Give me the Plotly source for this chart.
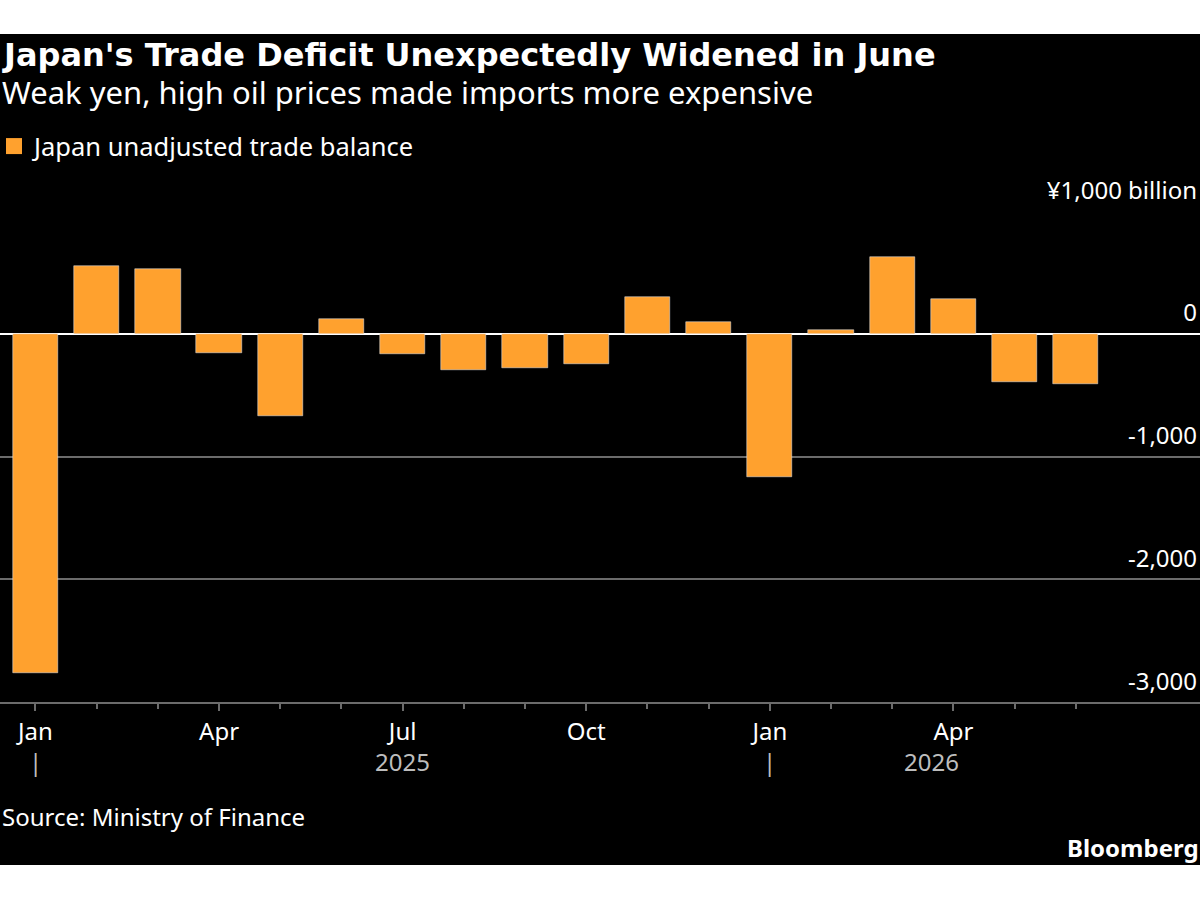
import plotly.graph_objects as go

# ---- data ----
months = ["Jan 2025", "Feb 2025", "Mar 2025", "Apr 2025", "May 2025", "Jun 2025",
          "Jul 2025", "Aug 2025", "Sep 2025", "Oct 2025", "Nov 2025", "Dec 2025",
          "Jan 2026", "Feb 2026", "Mar 2026", "Apr 2026", "May 2026", "Jun 2026"]
trade_balance = [-2764, 556, 524, -153, -666, 117, -161, -298, -283, -243, 302, 93,
                 -1169, 33, 626, 280, -396, -412]
month_tick_labels = ["Jan", "Apr", "Jul", "Oct", "Jan", "Apr"]
y_tick_values = [-3000, -2000, -1000, 0, 1000]
y_tick_labels = ["-3,000", "-2,000", "-1,000", "0", "¥1,000 billion"]
years = ["2025", "2026"]
year_start_idx = [0, 12]
year_label_pos = [6, 14.65]
series_name = "Japan unadjusted trade balance"

FONT = "Noto Sans"
ORANGE = "#FFA12E"
GRID = "#6b6b6b"
YEARCOL = "#bdbdbd"

W, H = 1200, 900
L, R, T, B = 0, 0, 211, 198
PLOT_H = H - T - B
PLOT_W = W - L - R


def py(p):
    return (H - B - p) / PLOT_H


def px(x):
    return (x - L) / PLOT_W


x_idx = list(range(len(months)))
tick_idx = x_idx[0::3]

fig = go.Figure()
fig.add_trace(go.Bar(x=x_idx, y=trade_balance, marker_color=ORANGE, width=0.74,
                     showlegend=False, name=series_name))
fig.add_trace(go.Scatter(x=[None], y=[None], mode="markers", name=series_name,
                         marker=dict(symbol="square", size=16, color=ORANGE)))

fig.update_layout(
    width=W, height=H,
    margin=dict(l=L, r=R, t=T, b=B, autoexpand=False),
    paper_bgcolor="white", plot_bgcolor="black",
    font=dict(family=FONT, color="white", size=24),
    bargap=0,
    legend=dict(x=px(-6), y=py(123), xanchor="left", yanchor="top",
                orientation="h", font=dict(size=25.5, color="white"),
                bgcolor="rgba(0,0,0,0)", itemwidth=30),
    shapes=[dict(type="rect", xref="paper", yref="paper",
                 x0=-0.01, x1=1.01, y0=py(865), y1=py(34),
                 fillcolor="black", line=dict(width=0), layer="below")],
)

fig.update_xaxes(
    range=[-0.58, 19.03], tickmode="array", tickvals=tick_idx, ticktext=month_tick_labels,
    showgrid=False, showline=True, linecolor=GRID, linewidth=2,
    ticks="outside", ticklen=7, tickwidth=1.5, tickcolor=GRID,
    tickfont=dict(size=24, color="white"),
    minor=dict(tickmode="array", tickvals=x_idx, ticks="outside", ticklen=5,
               tickcolor=GRID, tickwidth=1.5, showgrid=False),
    zeroline=False,
)
fig.update_yaxes(
    range=[-3000, 1000], side="right", tickmode="array",
    tickvals=y_tick_values, ticktext=y_tick_labels,
    ticklabelposition="inside top", ticklabeloverflow="allow", ticklabelshift=-4,
    showgrid=True, gridcolor=GRID, gridwidth=2,
    zeroline=True, zerolinecolor="white", zerolinewidth=2,
    ticks="", tickfont=dict(size=24, color="white"), showline=False,
)

annotations = [
    dict(text="<b>Japan's Trade Deficit Unexpectedly Widened in June</b>",
         x=px(0), y=py(55), xanchor="left", yanchor="middle",
         font=dict(family="DejaVu Sans", size=32, color="white")),
    dict(text="Weak yen, high oil prices made imports more expensive",
         x=px(0), y=py(92), xanchor="left", yanchor="middle",
         font=dict(size=31, color="white")),
    dict(text="Source: Ministry of Finance",
         x=px(0), y=py(816), xanchor="left", yanchor="middle",
         font=dict(size=24, color="white")),
    dict(text="<b>Bloomberg</b>",
         x=px(1200), y=py(847), xanchor="right", yanchor="middle", xshift=1,
         font=dict(size=24, color="white")),
]
for yl, xp in zip(years, year_label_pos):
    annotations.append(dict(text=yl, xref="x", x=xp, y=py(761), yanchor="middle",
                            font=dict(size=24, color=YEARCOL)))
for xs in year_start_idx:
    annotations.append(dict(text="|", xref="x", x=xs, y=py(761), yanchor="middle",
                            font=dict(size=24, color=YEARCOL)))
for a in annotations:
    a.setdefault("xref", "paper")
    a.setdefault("yref", "paper")
    a["showarrow"] = False
fig.update_layout(annotations=annotations)

fig.write_html("out.html")
